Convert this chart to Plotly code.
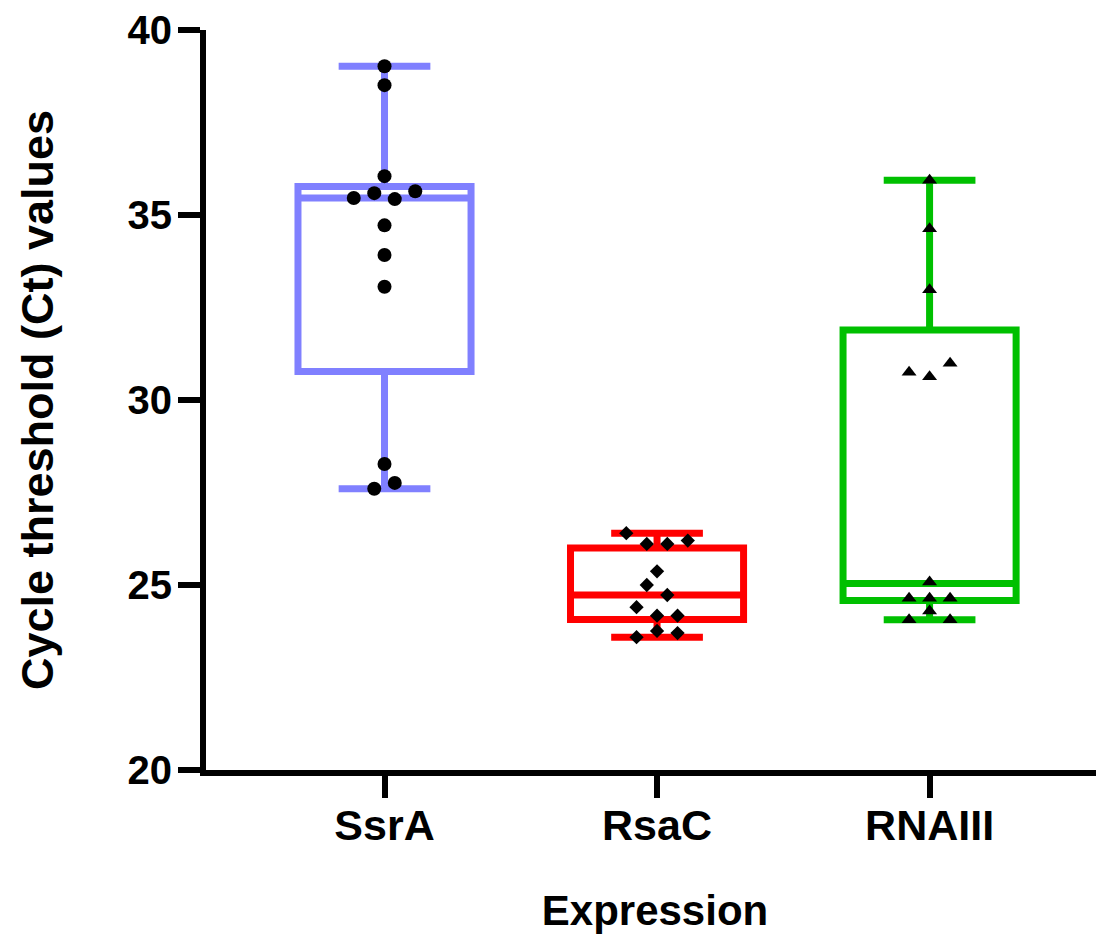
import plotly.graph_objects as go

# ---- data ----
categories = ["SsrA", "RsaC", "RNAIII"]

ssra_values = [39.02, 38.51, 36.05, 35.46, 35.59, 35.43, 35.64, 34.72, 33.92, 33.06, 28.27, 27.60, 27.76]
rsac_values = [26.40, 26.11, 26.11, 26.20, 25.37, 25.00, 24.73, 24.40, 24.17, 24.17, 23.59, 23.76, 23.70]
rnaiii_values = [35.94, 34.63, 32.98, 30.75, 30.63, 30.99, 25.08, 24.64, 24.64, 24.64, 24.06, 24.30, 24.06]

# box statistics as drawn in the reference
box_lowerfence = [27.60, 23.59, 24.06]
box_q1 = [30.77, 24.07, 24.58]
box_median = [35.46, 24.73, 25.04]
box_q3 = [35.77, 26.00, 31.89]
box_upperfence = [39.02, 26.40, 35.94]

y_ticks = [20, 25, 30, 35, 40]

# ---- styling ----
colors = ["#8080FF", "#FF0000", "#00C000"]
symbols = ["circle", "diamond", "triangle-up"]
marker_sizes = [14, 11, 13]

# the page body adds an 8 px margin, so the figure is drawn 8 px smaller
W, H = 1096, 929
M_L, M_R, M_T, M_B = 198, 0, 22, 167
X_RANGE = [-0.655, 2.64]
Y_RANGE = [20, 40]
PX_PER_X = (W - M_L - M_R) / (X_RANGE[1] - X_RANGE[0])
PX_PER_Y = (H - M_T - M_B) / (Y_RANGE[1] - Y_RANGE[0])
STEP_PX = 20.5      # horizontal spacing of spread points
ROW_PX = 13.8       # vertical band within which points share a row


def spread(values):
    """Deterministic row-based scatter spreading (like a column scatter plot)."""
    order = sorted(range(len(values)), key=lambda i: values[i])
    rows, cur, start = [], [], None
    for i in order:
        if cur and (values[i] - start) * PX_PER_Y < ROW_PX:
            cur.append(i)
        else:
            if cur:
                rows.append(cur)
            cur, start = [i], values[i]
    if cur:
        rows.append(cur)
    offs = [0.0] * len(values)
    for row in rows:
        row = sorted(row)
        n = len(row)
        for k, i in enumerate(row):
            offs[i] = (k - (n - 1) / 2) * STEP_PX / PX_PER_X
    return offs


fig = go.Figure()
all_values = [ssra_values, rsac_values, rnaiii_values]

for idx, name in enumerate(categories):
    fig.add_trace(go.Box(
        x=[idx],
        q1=[box_q1[idx]], median=[box_median[idx]], q3=[box_q3[idx]],
        lowerfence=[box_lowerfence[idx]], upperfence=[box_upperfence[idx]],
        name=name,
        width=0.635,
        whiskerwidth=0.53,
        fillcolor="rgba(0,0,0,0)",
        line=dict(color=colors[idx], width=7),
        boxpoints=False,
        showlegend=False,
        hoverinfo="skip",
    ))

for idx, vals in enumerate(all_values):
    offs = spread(vals)
    fig.add_trace(go.Scatter(
        x=[idx + o for o in offs],
        y=vals,
        mode="markers",
        marker=dict(symbol=symbols[idx], size=marker_sizes[idx], color="black",
                    line=dict(width=0)),
        showlegend=False,
        name=categories[idx],
    ))

font_family = "Liberation Sans, Arial, Helvetica, sans-serif"

fig.update_layout(
    width=W, height=H,
    margin=dict(l=M_L, r=M_R, t=M_T, b=M_B, autoexpand=False),
    paper_bgcolor="white",
    plot_bgcolor="white",
    font=dict(family=font_family, color="black", size=40, weight="bold"),
    xaxis=dict(
        range=X_RANGE,
        tickmode="array",
        tickvals=[0, 1, 2],
        ticktext=categories,
        showline=True, linecolor="black", linewidth=6,
        ticks="outside", ticklen=22, tickwidth=6, tickcolor="black",
        showgrid=False, zeroline=False,
        tickfont=dict(family=font_family, size=43, weight="bold"),
        ticklabelstandoff=-10,
        ticklabeloverflow="allow",
        title=dict(text="Expression", font=dict(family=font_family, size=42, weight="bold"),
                   standoff=50),
    ),
    yaxis=dict(
        range=Y_RANGE,
        tickmode="array",
        tickvals=y_ticks,
        showline=True, linecolor="black", linewidth=6,
        ticks="outside", ticklen=22, tickwidth=6, tickcolor="black",
        showgrid=False, zeroline=False,
        tickfont=dict(family=font_family, size=40, weight="bold"),
        ticklabelstandoff=-2,
        ticklabeloverflow="allow",
        title=dict(text="Cycle threshold (Ct) values",
                   font=dict(family=font_family, size=45, weight="bold"),
                   standoff=62),
    ),
)

fig.write_html("out.html")
